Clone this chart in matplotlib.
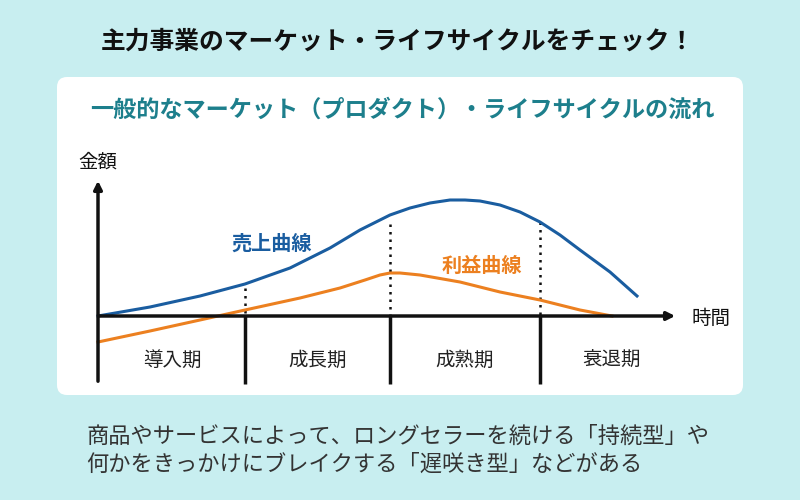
import matplotlib
matplotlib.use("Agg")
import matplotlib.pyplot as plt
from matplotlib.patches import FancyBboxPatch

plt.rcParams["font.family"] = "Noto Sans CJK JP"

title = "主力事業のマーケット・ライフサイクルをチェック！"
subtitle = "一般的なマーケット（プロダクト）・ライフサイクルの流れ"
stages = ["導入期", "成長期", "成熟期", "衰退期"]
stage_x = [172, 318, 465, 612]
dividers = [245, 390, 540]
divider_tops = [288, 224, 222]
sales_x = [98, 150, 200, 245, 290, 330, 360, 390, 410, 430, 450, 465, 480, 500, 520, 540, 560, 580, 610, 637]
sales_y = [316, 307, 296, 284, 268, 248, 230, 215, 208, 203, 200, 200, 201, 205, 212, 222, 235, 250, 272, 296]
profit_x = [98, 150, 200, 245, 300, 340, 365, 380, 390, 400, 420, 460, 500, 540, 580, 612]
profit_y = [342, 331, 320, 310, 298, 288, 280, 275, 273, 273, 275, 282, 292, 300, 310, 316]
footer = ["商品やサービスによって、ロングセラーを続ける「持続型」や",
          "何かをきっかけにブレイクする「遅咲き型」などがある"]

fig = plt.figure(figsize=(8, 5), dpi=100)
fig.patch.set_facecolor("#c8eef0")
ax = fig.add_axes([0, 0, 1, 1])
ax.set_xlim(0, 800); ax.set_ylim(500, 0); ax.axis("off")

ax.add_patch(FancyBboxPatch((57, 77), 686, 318, boxstyle="round,pad=0,rounding_size=10",
                            fc="white", ec="none"))
ax.text(398, 42, title, ha="center", va="center", fontsize=17.8, fontweight="bold", color="#111")
ax.text(402, 110, subtitle, ha="center", va="center", fontsize=16.7, fontweight="bold", color="#1d7f8c")

ax.annotate("", xy=(98, 178), xytext=(98, 384),
            arrowprops=dict(arrowstyle="-|>", color="#111", lw=2.5, mutation_scale=12))
ax.annotate("", xy=(678, 316), xytext=(96, 316),
            arrowprops=dict(arrowstyle="-|>", color="#111", lw=2.5, mutation_scale=12))
ax.text(98, 162, "金額", ha="center", va="center", fontsize=14, color="#111")
ax.text(711, 318, "時間", ha="center", va="center", fontsize=14, color="#111")

for x, t in zip(dividers, divider_tops):
    ax.plot([x, x], [316, 384], color="#111", lw=2.5, solid_capstyle="butt")
    ax.plot([x, x], [t, 316], color="#111", lw=1.8, ls=(0, (1, 2)))
for x, s in zip(stage_x, stages):
    ax.text(x, 360, s, ha="center", va="center", fontsize=14, color="#222")

ax.plot(sales_x, sales_y, color="#1a5da0", lw=2.2)
ax.plot(profit_x, profit_y, color="#ec8020", lw=2.2)
ax.text(272, 243, "売上曲線", ha="center", va="center", fontsize=14.5, fontweight="bold", color="#1a5da0")
ax.text(482, 265, "利益曲線", ha="center", va="center", fontsize=14.5, fontweight="bold", color="#ec8020")

ax.text(86, 436, footer[0], ha="left", va="center", fontsize=16, color="#333")
ax.text(86, 464, footer[1], ha="left", va="center", fontsize=16, color="#333")

fig.savefig("out.png", dpi=100)
